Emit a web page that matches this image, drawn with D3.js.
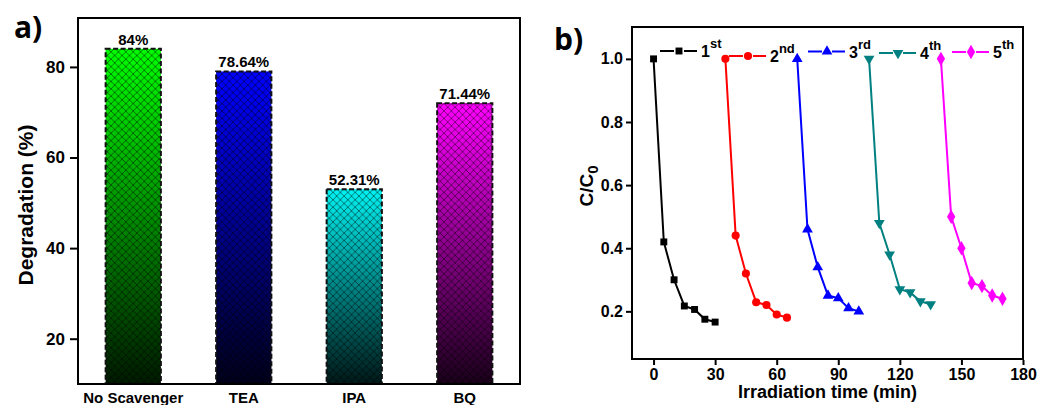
<!DOCTYPE html>
<html>
<head>
<meta charset="utf-8">
<script src="https://cdn.jsdelivr.net/npm/d3@7"></script>
<style>
  html, body { margin: 0; padding: 0; background: #fff; }
  svg { display: block; font-family: "Liberation Sans", Arial, sans-serif; }
</style>
</head>
<body>
<svg id="chart" width="1059" height="405"></svg>
<script>
// ---------- DATA ----------
const categories = ["No Scavenger", "TEA", "IPA", "BQ"];
const degradation = [84, 79, 53, 72];
const degradationLabels = ["84%", "78.64%", "52.31%", "71.44%"];
const barColors = ["#00ff00", "#0000ff", "#00f2f2", "#ff00ff"];
const yTicksA = [20, 40, 60, 80];

const cycleNames = ["1", "2", "3", "4", "5"];
const cycleSups = ["st", "nd", "rd", "th", "th"];
const cycleColors = ["#000000", "#ff0000", "#0000ff", "#008080", "#ff00ff"];
const cycleTimes = [
  [0, 5, 10, 15, 20, 25, 30],
  [35, 40, 45, 50, 55, 60, 65],
  [70, 75, 80, 85, 90, 95, 100],
  [105, 110, 115, 120, 125, 130, 135],
  [140, 145, 150, 155, 160, 165, 170]
];
const cycleValues = [
  [1.0, 0.42, 0.30, 0.217, 0.206, 0.175, 0.166],
  [1.0, 0.44, 0.32, 0.229, 0.22, 0.19, 0.18],
  [1.0, 0.46, 0.34, 0.25, 0.242, 0.21, 0.20],
  [1.0, 0.48, 0.38, 0.27, 0.26, 0.232, 0.222],
  [1.0, 0.50, 0.40, 0.29, 0.28, 0.25, 0.24]
];
const xTicksB = [0, 30, 60, 90, 120, 150, 180];
const yTicksB = [0.2, 0.4, 0.6, 0.8, 1.0];

// ---------- SETUP ----------
const svg = d3.select("#chart");
const defs = svg.append("defs");
const FONT = "'Liberation Sans', Arial, sans-serif";

// hatch pattern
const hs = 7.4;
const pat = defs.append("pattern").attr("id", "hatch")
  .attr("patternUnits", "userSpaceOnUse").attr("width", hs).attr("height", hs);
pat.append("path").attr("d", `M0,0L${hs},${hs}M0,${hs}L${hs},0M${-hs/2},${hs/2}L${hs/2},${-hs/2}M${hs/2},${hs*1.5}L${hs*1.5},${hs/2}M${-hs/2},${hs/2}L${hs/2},${hs*1.5}M${hs/2},${-hs/2}L${hs*1.5},${hs/2}`)
  .attr("stroke", "#000").attr("stroke-opacity", 0.6).attr("stroke-width", 0.8).attr("fill", "none");

// ---------- PANEL A ----------
const A = { l: 78, r: 520, t: 18, b: 384 };
const xA = d3.scaleBand().domain(categories).range([A.l, A.r]).padding(0.5).paddingOuter(0.25);
const yA = d3.scaleLinear().domain([10, 90.8]).range([A.b, A.t]);

barColors.forEach((c, i) => {
  const g = defs.append("linearGradient").attr("id", "grad" + i)
    .attr("x1", 0).attr("y1", 0).attr("x2", 0).attr("y2", 1);
  g.append("stop").attr("offset", "0%").attr("stop-color", c);
  g.append("stop").attr("offset", "100%").attr("stop-color", d3.interpolateRgb("#000", c)(0.1));
});

const gA = svg.append("g");
const bars = gA.selectAll(".bar").data(categories).join("g");
bars.append("rect")
  .attr("x", d => xA(d)).attr("width", xA.bandwidth())
  .attr("y", (d, i) => yA(degradation[i])).attr("height", (d, i) => yA(10) - yA(degradation[i]))
  .attr("fill", (d, i) => `url(#grad${i})`);
bars.append("rect")
  .attr("x", d => xA(d)).attr("width", xA.bandwidth())
  .attr("y", (d, i) => yA(degradation[i])).attr("height", (d, i) => yA(10) - yA(degradation[i]))
  .attr("fill", "url(#hatch)");
bars.append("rect")
  .attr("x", d => xA(d)).attr("width", xA.bandwidth())
  .attr("y", (d, i) => yA(degradation[i])).attr("height", (d, i) => yA(10) - yA(degradation[i]))
  .attr("fill", "none").attr("stroke", "#111").attr("stroke-width", 2).attr("stroke-dasharray", "5,2.5");
bars.append("text")
  .attr("x", d => xA(d) + xA.bandwidth() / 2)
  .attr("y", (d, i) => yA(degradation[i]) - 4)
  .attr("text-anchor", "middle").attr("font-family", FONT).attr("font-weight", "bold").attr("font-size", 15)
  .text((d, i) => degradationLabels[i]);

// frame
gA.append("rect").attr("x", A.l).attr("y", A.t).attr("width", A.r - A.l).attr("height", A.b - A.t)
  .attr("fill", "none").attr("stroke", "#000").attr("stroke-width", 2);

// y axis
const axA = gA.append("g").attr("transform", `translate(${A.l - 1},0)`)
  .call(d3.axisLeft(yA).tickValues(yTicksA).tickSize(7).tickPadding(5).tickFormat(d3.format("d")));
axA.select(".domain").remove();
axA.selectAll("line").attr("stroke-width", 2);
axA.selectAll("text").attr("font-family", FONT).attr("font-weight", "bold").attr("font-size", 17).attr("fill", "#000");

// x labels
gA.selectAll(".xl").data(categories).join("text")
  .attr("x", d => xA(d) + xA.bandwidth() / 2).attr("y", 403)
  .attr("text-anchor", "middle").attr("font-family", FONT).attr("font-weight", "bold").attr("font-size", 15)
  .text(d => d);

gA.append("text").attr("transform", "translate(33,205) rotate(-90)")
  .attr("text-anchor", "middle").attr("font-family", FONT).attr("font-weight", "bold").attr("font-size", 21)
  .text("Degradation (%)");

gA.append("text").attr("x", 14).attr("y", 38)
  .attr("font-family", "'Open Sans', sans-serif").attr("font-weight", "bold").attr("font-size", 30)
  .text("a)");

// ---------- PANEL B ----------
const B = { l: 632, r: 1023, t: 27, b: 359 };
const xB = d3.scaleLinear().domain([-10.5, 180]).range([B.l, B.r]);
const yB = d3.scaleLinear().domain([0.049, 1.101]).range([B.b, B.t]);
const gB = svg.append("g");

const symbolTypes = [d3.symbolSquare, d3.symbolCircle, d3.symbolTriangle, d3.symbolTriangle, d3.symbolDiamond];
const symbolSizes = [48, 52, 50, 50, 60];
const symbolRot = [0, 0, 0, 180, 0];
const line = d3.line().x(d => xB(d[0])).y(d => yB(d[1]));

cycleTimes.forEach((ts, k) => {
  const pts = ts.map((t, j) => [t, cycleValues[k][j]]);
  gB.append("path").attr("d", line(pts)).attr("fill", "none")
    .attr("stroke", cycleColors[k]).attr("stroke-width", 2);
  gB.selectAll(".m" + k).data(pts).join("path")
    .attr("transform", d => `translate(${xB(d[0])},${yB(d[1])}) rotate(${symbolRot[k]})`)
    .attr("d", d3.symbol().type(symbolTypes[k]).size(symbolSizes[k]))
    .attr("fill", cycleColors[k]);
});

// legend (layout positions)
const legendPos = [[679, 51], [748, 56], [827, 51.5], [898, 53], [971, 52]];
cycleNames.forEach((n, k) => {
  const [cx, cy] = legendPos[k];
  const lg = gB.append("g");
  lg.append("line").attr("x1", cx - 19).attr("x2", cx - 5).attr("y1", cy).attr("y2", cy)
    .attr("stroke", cycleColors[k]).attr("stroke-width", 2);
  lg.append("line").attr("x1", cx + 5).attr("x2", cx + 18).attr("y1", cy).attr("y2", cy)
    .attr("stroke", cycleColors[k]).attr("stroke-width", 2);
  lg.append("path").attr("transform", `translate(${cx},${cy}) rotate(${symbolRot[k]})`)
    .attr("d", d3.symbol().type(symbolTypes[k]).size(symbolSizes[k])).attr("fill", cycleColors[k]);
  const t = lg.append("text").attr("x", cx + 22).attr("y", cy + 6)
    .attr("font-family", FONT).attr("font-weight", "bold").attr("font-size", 16);
  t.append("tspan").text(n);
  t.append("tspan").attr("dy", -9).attr("font-size", 13).text(cycleSups[k]);
});

gB.append("rect").attr("x", B.l).attr("y", B.t).attr("width", B.r - B.l).attr("height", B.b - B.t)
  .attr("fill", "none").attr("stroke", "#000").attr("stroke-width", 2);

const axBy = gB.append("g").attr("transform", `translate(${B.l - 1},0)`)
  .call(d3.axisLeft(yB).tickValues(yTicksB).tickSize(5).tickPadding(3).tickFormat(d3.format(".1f")));
axBy.select(".domain").remove();
axBy.selectAll("line").attr("stroke-width", 2);
axBy.selectAll("text").attr("font-family", FONT).attr("font-weight", "bold").attr("font-size", 16).attr("fill", "#000");

const axBx = gB.append("g").attr("transform", `translate(0,${B.b + 1})`)
  .call(d3.axisBottom(xB).tickValues(xTicksB).tickSize(5).tickPadding(4).tickFormat(d3.format("d")));
axBx.select(".domain").remove();
axBx.selectAll("line").attr("stroke-width", 2);
axBx.selectAll("text").attr("font-family", FONT).attr("font-weight", "bold").attr("font-size", 16).attr("fill", "#000");

gB.append("text").attr("x", (B.l + B.r) / 2).attr("y", 398)
  .attr("text-anchor", "middle").attr("font-family", FONT).attr("font-weight", "bold").attr("font-size", 18)
  .text("Irradiation time (min)");

const cl = gB.append("text").attr("transform", "translate(593,186) rotate(-90)")
  .attr("text-anchor", "middle").attr("font-family", FONT).attr("font-weight", "bold").attr("font-size", 19);
cl.append("tspan").text("C/C");
cl.append("tspan").attr("dy", 5).attr("font-size", 15).text("0");

gB.append("text").attr("x", 554).attr("y", 50)
  .attr("font-family", "'Open Sans', sans-serif").attr("font-weight", "bold").attr("font-size", 30)
  .text("b)");
</script>
</body>
</html>
